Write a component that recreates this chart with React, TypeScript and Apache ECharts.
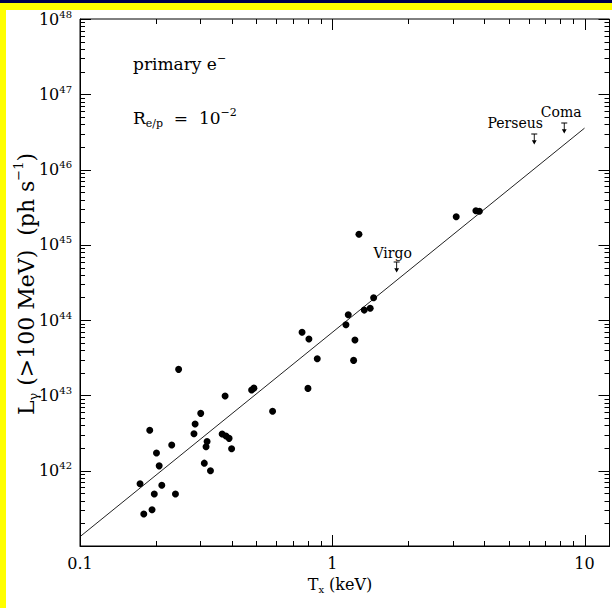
import React, { useEffect, useRef } from 'react';
import * as echarts from 'echarts';

// Cluster X-ray temperature (keV) and predicted gamma-ray luminosity (ph/s)
const clusterTemperatureKeV = [
  1.276, 3.10, 3.71, 3.83, 1.459, 1.339, 1.414, 1.157, 1.133, 0.759, 0.808, 0.872, 1.230, 1.215,
  0.801, 0.580, 0.479, 0.489, 0.246, 0.376, 0.301, 0.286, 0.189, 0.283, 0.366, 0.379, 0.390,
  0.319, 0.316, 0.231, 0.399, 0.201, 0.206, 0.311, 0.329, 0.173, 0.211, 0.197, 0.239, 0.193, 0.179,
];
const clusterLuminosity = [
  1.38e45, 2.36e45, 2.84e45, 2.79e45, 1.98e44, 1.36e44, 1.44e44, 1.18e44, 8.69e43, 6.89e43,
  5.61e43, 3.07e43, 5.45e43, 2.92e43, 1.24e43, 6.15e42, 1.18e43, 1.25e43, 2.22e43, 9.82e42,
  5.78e42, 4.17e42, 3.44e42, 3.10e42, 3.07e42, 2.89e42, 2.69e42, 2.45e42, 2.08e42, 2.19e42,
  1.96e42, 1.72e42, 1.16e42, 1.26e42, 1.00e42, 6.71e41, 6.40e41, 4.91e41, 4.91e41, 3.03e41, 2.66e41,
];

// Fit line end points
const fitLineT = [0.1, 10];
const fitLineL = [1.33e41, 3.55e46];

// Upper limits
const limitNames = ['Virgo', 'Perseus', 'Coma'];
const limitT = [1.80, 6.32, 8.31];
const limitL = [5.07e44, 2.54e46, 3.56e46];

// Axes
const xMin = 0.1;
const xMax = 12.56;
const yMin = 1e41;
const yMax = 1e48;
const xDecades = [-1, 0, 1];
const xTickLabels = ['0.1', '1', '10'];
const yDecades = [41, 42, 43, 44, 45, 46, 47, 48];
const yLabelDecades = [42, 43, 44, 45, 46, 47, 48];
const minorMultipliers = [2, 3, 4, 5, 6, 7, 8, 9];

const FONT = '"DejaVu Serif", serif';

export default function App() {
  const ref = useRef<HTMLDivElement>(null);

  useEffect(() => {
    document.body.style.margin = '0';
    const chart = echarts.init(ref.current!, undefined, { renderer: 'svg' });

    const scatterData = clusterTemperatureKeV.map((t, i) => [t, clusterLuminosity[i]]);
    const lineData = fitLineT.map((t, i) => [t, fitLineL[i]]);
    const labelOffsets: Record<string, number[]> = {
      Virgo: [-4, -14],
      Perseus: [-19, -16],
      Coma: [-3, -16],
    };
    const limitData = limitNames.map((n, i) => ({
      name: n,
      value: [limitT[i], limitL[i]],
      label: { offset: labelOffsets[n] },
    }));

    // tick data: [x, y, isY, isMajor]
    const tickData: number[][] = [];
    xDecades.forEach((e) => {
      const base = Math.pow(10, e);
      tickData.push([base, 1e44, 0, 1]);
      minorMultipliers.forEach((k) => {
        const v = k * base;
        if (v < xMax) tickData.push([v, 1e44, 0, 0]);
      });
    });
    yDecades.forEach((e) => {
      const base = Math.pow(10, e);
      tickData.push([1, base, 1, 1]);
      if (e < 48) minorMultipliers.forEach((k) => tickData.push([1, k * base, 1, 0]));
    });

    const lineStyle = { stroke: '#000', lineWidth: 1 };

    chart.setOption({
      animation: false,
      backgroundColor: '#fff',
      grid: {
        left: 80,
        top: 19,
        right: 2.5,
        bottom: 62,
        show: true,
        borderColor: '#000',
        borderWidth: 1,
        outerBoundsMode: 'none',
        containLabel: false,
      },
      xAxis: {
        type: 'log',
        logBase: 10,
        min: xMin,
        max: xMax,
        interval: 1,
        axisLine: { show: true, lineStyle: { color: '#000', width: 1 } },
        axisTick: { show: false },
        splitLine: { show: false },
        minorTick: { show: false },
        axisLabel: {
          margin: 9,
          fontFamily: FONT,
          fontSize: 16,
          color: '#000',
          showMaxLabel: false,
          formatter: (v: number) => {
            const e = Math.log10(v);
            const r = Math.round(e);
            if (Math.abs(e - r) > 1e-6) return '';
            const idx = xDecades.indexOf(r);
            return idx >= 0 ? xTickLabels[idx] : '';
          },
        },
      },
      yAxis: {
        type: 'log',
        logBase: 10,
        min: yMin,
        max: yMax,
        interval: 1,
        splitNumber: 7,
        axisLine: { show: true, lineStyle: { color: '#000', width: 1 } },
        axisTick: { show: false },
        splitLine: { show: false },
        minorTick: { show: false },
        axisLabel: {
          margin: 8,
          color: '#000',
          formatter: (v: number) => {
            const e = Math.log10(v);
            const r = Math.round(e);
            if (Math.abs(e - r) > 1e-6) return '';
            if (yLabelDecades.indexOf(r) < 0) return '';
            return '{b|10}{s|' + r + '}';
          },
          rich: {
            b: { fontFamily: FONT, fontSize: 16, lineHeight: 20, color: '#000' },
            s: { fontFamily: FONT, fontSize: 10, lineHeight: 10, verticalAlign: 'top', color: '#000' },
          },
        },
      },
      series: [
        {
          type: 'custom',
          name: 'ticks',
          data: tickData,
          encode: { x: 0, y: 1 },
          clip: false,
          silent: true,
          z: 5,
          renderItem: (params: any, api: any) => {
            const cs = params.coordSys;
            const isY = api.value(2) === 1;
            const major = api.value(3) === 1;
            const len = major ? 11 : 5;
            const pt = api.coord([api.value(0), api.value(1)]);
            if (!isY) {
              const px = Math.round(pt[0]) + 0.5;
              const yb = cs.y + cs.height;
              return {
                type: 'group',
                children: [
                  { type: 'line', shape: { x1: px, y1: yb, x2: px, y2: yb - len }, style: lineStyle },
                  { type: 'line', shape: { x1: px, y1: cs.y, x2: px, y2: cs.y + len }, style: lineStyle },
                ],
              };
            }
            const py = Math.round(pt[1]) + 0.5;
            const xr = cs.x + cs.width;
            return {
              type: 'group',
              children: [
                { type: 'line', shape: { x1: cs.x, y1: py, x2: cs.x + len, y2: py }, style: lineStyle },
                { type: 'line', shape: { x1: xr, y1: py, x2: xr - len, y2: py }, style: lineStyle },
              ],
            };
          },
        },
        {
          type: 'line',
          name: 'fit',
          data: lineData,
          symbol: 'none',
          lineStyle: { color: '#222', width: 1 },
          z: 3,
        },
        {
          type: 'scatter',
          name: 'clusters',
          data: scatterData,
          symbol: 'circle',
          symbolSize: 7,
          itemStyle: { color: '#000', opacity: 1 },
          z: 4,
        },
        {
          type: 'scatter',
          name: 'limits',
          data: limitData,
          symbol: 'path://M0,0 L8,0 L8,1.2 L0,1.2 Z M3.4,1.2 L4.6,1.2 L4.6,9 L3.4,9 Z M0.8,8.5 L7.2,8.5 L4,14 Z',
          symbolSize: [6, 11],
          symbolKeepAspect: false,
          itemStyle: { color: '#000', opacity: 1 },
          label: {
            show: true,
            position: 'inside',
            formatter: '{b}',
            fontFamily: FONT,
            fontSize: 14,
            color: '#000',
            textBorderWidth: 0,
          },
          z: 4,
        },
      ],
      graphic: [
        { type: 'rect', shape: { x: 0, y: 0, width: 612, height: 3 }, style: { fill: '#00004d' }, silent: true },
        { type: 'rect', shape: { x: 0, y: 3, width: 612, height: 7 }, style: { fill: '#ffff00' }, silent: true },
        { type: 'rect', shape: { x: 0, y: 3, width: 6, height: 605 }, style: { fill: '#ffff00' }, silent: true },
        {
          type: 'text',
          x: 133,
          y: 64,
          style: {
            text: '{m|primary e}{sp|−}',
            verticalAlign: 'middle',
            rich: {
              m: { fontFamily: FONT, fontSize: 17, lineHeight: 22, fill: '#000' },
              sp: { fontFamily: FONT, fontSize: 11, lineHeight: 11, verticalAlign: 'top', fill: '#000' },
            },
          },
        },
        {
          type: 'text',
          x: 133,
          y: 118,
          style: {
            text: '{m|R}{sb|e/p}{m|  =  10}{sp|−2}',
            verticalAlign: 'middle',
            rich: {
              m: { fontFamily: FONT, fontSize: 17, lineHeight: 22, fill: '#000' },
              sb: { fontFamily: FONT, fontSize: 11, lineHeight: 11, verticalAlign: 'bottom', fill: '#000' },
              sp: { fontFamily: FONT, fontSize: 11, lineHeight: 11, verticalAlign: 'top', fill: '#000' },
            },
          },
        },
        {
          type: 'text',
          x: 340,
          y: 584,
          style: {
            text: '{m|T}{sb|x}{m| (keV)}',
            align: 'center',
            verticalAlign: 'middle',
            rich: {
              m: { fontFamily: FONT, fontSize: 16, lineHeight: 20, fill: '#000' },
              sb: { fontFamily: FONT, fontSize: 10, lineHeight: 10, verticalAlign: 'bottom', fill: '#000' },
            },
          },
        },
        {
          type: 'text',
          x: 26,
          y: 284,
          rotation: Math.PI / 2,
          style: {
            text: '{m|L}{sb|γ}{m| (>100 MeV)  (ph s}{sp|−1}{m|)}',
            align: 'center',
            verticalAlign: 'middle',
            rich: {
              m: { fontFamily: FONT, fontSize: 22, lineHeight: 28, fill: '#000' },
              sb: { fontFamily: FONT, fontSize: 13, lineHeight: 13, verticalAlign: 'bottom', fill: '#000' },
              sp: { fontFamily: FONT, fontSize: 13, lineHeight: 13, verticalAlign: 'top', fill: '#000' },
            },
          },
        },
      ],
    });

    return () => chart.dispose();
  }, []);

  return (
    <div
      ref={ref}
      style={{ position: 'fixed', left: 0, top: 0, width: 612, height: 608, background: '#fff' }}
    />
  );
}
